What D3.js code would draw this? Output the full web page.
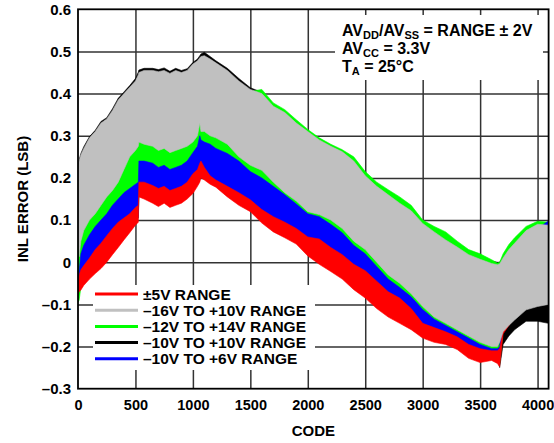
<!DOCTYPE html>
<html><head><meta charset="utf-8">
<script src="https://cdn.jsdelivr.net/npm/d3@7"></script>
<style>body{margin:0;background:#fff}svg{display:block}text{font-family:"Liberation Sans",Arial,sans-serif;font-weight:bold;fill:#000}</style>
</head><body>
<svg id="c" width="554" height="443"></svg>
<script>
const codes = [0,10,25,50,100,150,200,250,300,350,400,450,500,525,530,575,650,700,750,800,850,900,950,1000,1040,1060,1070,1100,1150,1200,1300,1400,1500,1600,1700,1800,1900,2000,2100,2200,2300,2400,2500,2600,2700,2800,2900,3000,3100,3200,3300,3400,3500,3600,3650,3670,3700,3750,3800,3900,4000,4095];

// -16V TO +10V (gray): upper / lower envelope
const grayHi = [0.22,0.24,0.255,0.27,0.295,0.31,0.33,0.34,0.36,0.385,0.40,0.415,0.43,0.445,0.45,0.455,0.455,0.452,0.455,0.448,0.455,0.45,0.455,0.47,0.478,0.485,0.488,0.49,0.482,0.473,0.455,0.43,0.41,0.40,0.37,0.355,0.33,0.31,0.29,0.275,0.262,0.24,0.205,0.18,0.16,0.14,0.122,0.092,0.072,0.053,0.036,0.018,0.007,-0.003,-0.006,-0.004,0.01,0.03,0.045,0.075,0.09,0.088];
const grayLo = [0.06,0.013,0.05,0.075,0.10,0.115,0.135,0.155,0.17,0.19,0.22,0.25,0.265,0.275,0.285,0.28,0.275,0.265,0.27,0.26,0.265,0.27,0.275,0.285,0.30,0.33,0.31,0.31,0.30,0.295,0.28,0.25,0.23,0.218,0.19,0.165,0.145,0.12,0.113,0.10,0.08,0.05,0.03,0.0,-0.03,-0.05,-0.075,-0.105,-0.13,-0.145,-0.16,-0.175,-0.19,-0.2,-0.2,-0.19,-0.165,-0.15,-0.137,-0.113,-0.105,-0.10];

// -12V TO +14V (green)
const greenHi = [0.1,0.2,0.22,0.23,0.25,0.27,0.29,0.30,0.32,0.345,0.36,0.375,0.39,0.40,0.41,0.415,0.415,0.41,0.415,0.41,0.415,0.41,0.415,0.43,0.44,0.445,0.45,0.45,0.445,0.44,0.43,0.42,0.405,0.41,0.378,0.362,0.338,0.315,0.295,0.28,0.267,0.25,0.215,0.19,0.172,0.155,0.135,0.10,0.085,0.072,0.05,0.03,0.02,0.006,-0.002,0.0,0.02,0.042,0.058,0.085,0.097,0.095];
const greenLo = [-0.095,-0.09,-0.06,-0.045,-0.03,-0.017,-0.005,0.01,0.028,0.045,0.063,0.08,0.098,0.105,0.165,0.16,0.15,0.142,0.15,0.14,0.145,0.15,0.16,0.173,0.19,0.2,0.21,0.205,0.195,0.188,0.165,0.145,0.13,0.103,0.082,0.068,0.053,0.025,0.005,-0.012,-0.03,-0.055,-0.075,-0.1,-0.12,-0.135,-0.15,-0.17,-0.18,-0.185,-0.197,-0.218,-0.228,-0.223,-0.23,-0.238,-0.16,-0.145,-0.13,-0.11,-0.10,-0.095];

// -10V TO +10V (black)
const blackHi = [0.22,0.243,0.258,0.274,0.298,0.313,0.334,0.343,0.364,0.389,0.404,0.419,0.436,0.451,0.456,0.46,0.46,0.457,0.461,0.453,0.46,0.455,0.459,0.474,0.482,0.49,0.494,0.498,0.488,0.478,0.46,0.436,0.414,0.403,0.372,0.356,0.332,0.312,0.292,0.277,0.265,0.243,0.207,0.182,0.162,0.142,0.124,0.094,0.074,0.055,0.038,0.02,0.009,0.003,0.0,0.0,0.012,0.032,0.047,0.077,0.092,0.09];
const blackLo = [-0.07,-0.065,-0.05,-0.04,-0.025,-0.01,0.0,0.015,0.03,0.045,0.065,0.085,0.10,0.11,0.17,0.165,0.155,0.15,0.155,0.145,0.15,0.155,0.165,0.18,0.195,0.205,0.215,0.21,0.2,0.19,0.17,0.15,0.135,0.108,0.09,0.075,0.06,0.03,0.01,-0.005,-0.025,-0.05,-0.07,-0.095,-0.115,-0.13,-0.145,-0.165,-0.175,-0.18,-0.19,-0.21,-0.222,-0.22,-0.225,-0.25,-0.195,-0.175,-0.16,-0.14,-0.14,-0.145];

// -10V TO +6V (blue)
const blueHi = [-0.04,-0.02,0.02,0.04,0.065,0.085,0.10,0.115,0.135,0.15,0.165,0.175,0.185,0.19,0.24,0.24,0.235,0.225,0.23,0.22,0.225,0.23,0.24,0.26,0.275,0.30,0.29,0.285,0.28,0.27,0.258,0.24,0.215,0.20,0.18,0.16,0.138,0.115,0.108,0.09,0.07,0.04,0.02,-0.01,-0.04,-0.06,-0.082,-0.112,-0.135,-0.15,-0.165,-0.18,-0.195,-0.205,-0.205,-0.2,0.0,0.02,0.035,0.06,0.08,0.098];
const blueLo = [-0.07,-0.065,-0.05,-0.04,-0.025,-0.013,-0.003,0.015,0.027,0.04,0.06,0.085,0.10,0.105,0.17,0.165,0.155,0.15,0.155,0.145,0.15,0.155,0.165,0.18,0.195,0.205,0.215,0.21,0.197,0.19,0.17,0.15,0.135,0.108,0.09,0.075,0.057,0.03,0.01,-0.005,-0.025,-0.05,-0.07,-0.095,-0.115,-0.13,-0.145,-0.165,-0.175,-0.18,-0.19,-0.21,-0.223,-0.22,-0.225,-0.23,-0.15,-0.14,-0.13,-0.10,-0.095,-0.09];

// ±5V (red)
const redHi = [-0.05,-0.03,-0.018,-0.008,0.01,0.03,0.045,0.063,0.08,0.095,0.105,0.115,0.13,0.135,0.19,0.19,0.182,0.175,0.18,0.17,0.175,0.18,0.19,0.21,0.22,0.235,0.24,0.225,0.205,0.195,0.18,0.165,0.148,0.125,0.108,0.095,0.08,0.06,0.055,0.035,0.018,-0.005,-0.02,-0.045,-0.07,-0.085,-0.11,-0.145,-0.155,-0.165,-0.177,-0.195,-0.205,-0.21,-0.21,-0.205,-0.16,-0.14,-0.12,-0.09,-0.08,-0.08];
const redLo = [-0.075,-0.07,-0.066,-0.055,-0.04,-0.027,-0.015,0.0,0.018,0.035,0.053,0.07,0.088,0.095,0.155,0.15,0.14,0.132,0.14,0.13,0.135,0.14,0.15,0.163,0.18,0.19,0.2,0.195,0.185,0.178,0.155,0.135,0.12,0.093,0.072,0.058,0.043,0.015,-0.005,-0.022,-0.04,-0.065,-0.085,-0.11,-0.13,-0.145,-0.16,-0.18,-0.19,-0.195,-0.207,-0.228,-0.238,-0.233,-0.24,-0.248,-0.17,-0.15,-0.13,-0.105,-0.095,-0.09];

const xTicks = [0,500,1000,1500,2000,2500,3000,3500,4000];
const yTicks = [-0.3,-0.2,-0.1,0,0.1,0.2,0.3,0.4,0.5,0.6];
const legendLabels = ["±5V RANGE","–16V TO +10V RANGE","–12V TO +14V RANGE","–10V TO +10V RANGE","–10V TO +6V RANGE"];
const legendColors = ["#ff0000","#c0c0c0","#00ff00","#000000","#0000ff"];

const svg = d3.select("#c");
const L=78, R=548.6, T=9.3, B=388.7;
const x = d3.scaleLinear().domain([0,4096]).range([L,R]);
const y = d3.scaleLinear().domain([-0.3,0.6]).range([B,T]);

svg.append("rect").attr("width",554).attr("height",443).attr("fill","#fff");
svg.append("defs").append("clipPath").attr("id","pc").append("rect").attr("x",L).attr("y",T).attr("width",R-L).attr("height",B-T);

// grid via axes
const gx = svg.append("g").attr("class","gridx").attr("transform",`translate(0,${B})`)
  .call(d3.axisBottom(x).tickValues(xTicks.filter(d=>d>0)).tickSize(-(B-T)).tickFormat(""));
gx.select(".domain").remove();
gx.selectAll("line").attr("stroke","#333").attr("stroke-width",1.5);
const gy = svg.append("g").attr("class","gridy").attr("transform",`translate(${L},0)`)
  .call(d3.axisLeft(y).tickValues(yTicks.filter(d=>d>-0.3&&d<0.6)).tickSize(-(R-L)).tickFormat(""));
gy.select(".domain").remove();
gy.selectAll("line").attr("stroke","#333").attr("stroke-width",1.5);

// bands
const series = [
  {hi:blackHi, lo:blackLo, c:"#000000"},
  {hi:greenHi, lo:greenLo, c:"#00ff00"},
  {hi:blueHi, lo:blueLo, c:"#0000ff"},
  {hi:redHi, lo:redLo, c:"#ff0000"},
  {hi:grayHi, lo:grayLo, c:"#c0c0c0"}
];
const area = d3.area().x(d=>x(d.c)).y0(d=>y(d.lo)).y1(d=>y(d.hi));
const dg = svg.append("g").attr("clip-path","url(#pc)");
series.forEach(s=>{
  const data = codes.map((c,i)=>({c:c,hi:s.hi[i],lo:s.lo[i]}));
  dg.append("path").attr("d",area(data)).attr("fill",s.c).attr("stroke",s.c).attr("stroke-width",0.6);
});

// annotation
svg.append("rect").attr("x",335).attr("y",15).attr("width",208).attr("height",65).attr("fill","#fff");
const ann = svg.append("g").attr("font-size",16);
function sub(t, parts){ parts.forEach(p=>{ const ts=t.append("tspan").text(p[0]); if(p[1]){ts.attr("font-size",11).attr("dy",3);} else if(p[2]){ts.attr("dy",-3);} }); }
let t1 = ann.append("text").attr("x",342).attr("y",36.2);
sub(t1,[["AV"],["DD",1],["/AV",0,1],["SS",1],[" = RANGE ± 2V",0,1]]);
let t2 = ann.append("text").attr("x",342).attr("y",54.3);
sub(t2,[["AV"],["CC",1],[" = 3.3V",0,1]]);
let t3 = ann.append("text").attr("x",342).attr("y",72);
sub(t3,[["T"],["A",1],[" = 25°C",0,1]]);

// legend
svg.append("rect").attr("x",93).attr("y",285).attr("width",222).attr("height",85).attr("fill","#fff");
const lg = svg.append("g");
legendLabels.forEach((lab,i)=>{
  const yy = 294 + i*16.2;
  lg.append("line").attr("x1",95).attr("x2",138).attr("y1",yy).attr("y2",yy).attr("stroke",legendColors[i]).attr("stroke-width",3);
  lg.append("text").attr("x",143).attr("y",yy+5.5).attr("font-size",15.5).text(lab);
});

// frame
svg.append("rect").attr("x",L).attr("y",T).attr("width",R-L).attr("height",B-T).attr("fill","none").attr("stroke","#000").attr("stroke-width",1.8);

// axes labels
const fmtY = d=> d===0 ? "0" : (d<0 ? "–"+Math.abs(d).toFixed(1) : d.toFixed(1));
const ya = svg.append("g").attr("transform",`translate(${L},0)`).call(d3.axisLeft(y).tickValues(yTicks).tickFormat(fmtY).tickSize(0).tickPadding(7));
ya.select(".domain").remove();
ya.selectAll("text").attr("font-size",15).style("font-family",'"Liberation Sans",Arial,sans-serif').style("font-weight","bold").attr("fill","#000");
const xa = svg.append("g").attr("transform",`translate(0,${B})`).call(d3.axisBottom(x).tickValues(xTicks).tickFormat(d=>String(d)).tickSize(0).tickPadding(11));
xa.select(".domain").remove();
xa.selectAll("text").attr("font-size",14.5).style("font-family",'"Liberation Sans",Arial,sans-serif').style("font-weight","bold").attr("fill","#000");

svg.append("text").attr("x",(L+R)/2).attr("y",436).attr("text-anchor","middle").attr("font-size",15).text("CODE");
svg.append("text").attr("transform","translate(28,199) rotate(-90)").attr("text-anchor","middle").attr("font-size",15).text("INL ERROR (LSB)");
</script>
</body></html>
